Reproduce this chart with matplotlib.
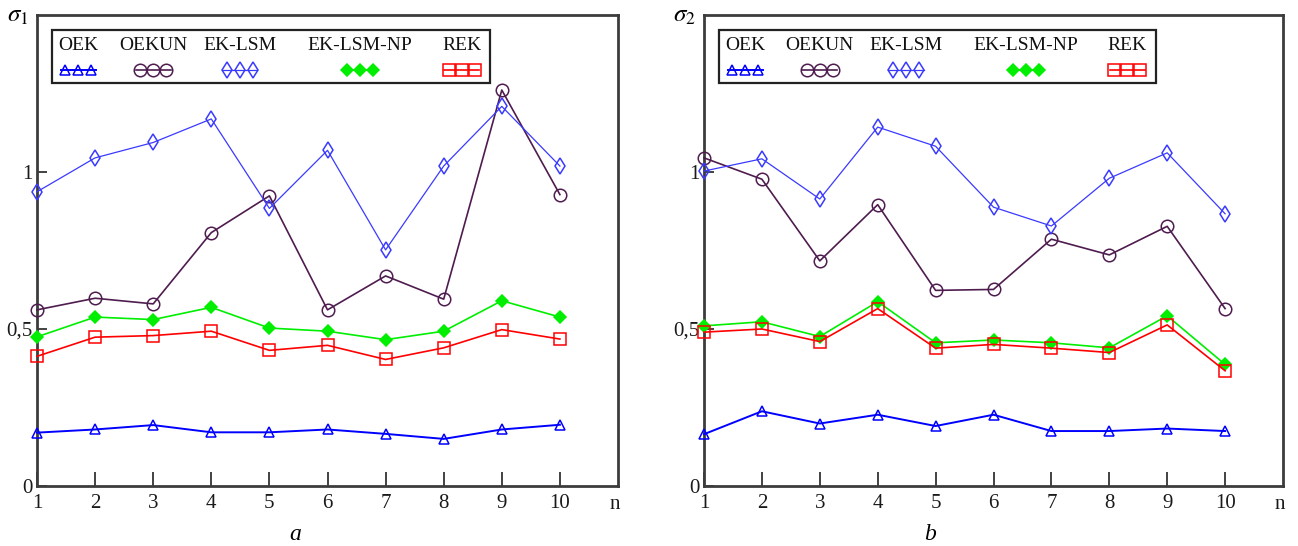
import numpy as np
import matplotlib
matplotlib.use('Agg')
import matplotlib.pyplot as plt

plt.rcParams['font.family'] = ['Liberation Serif', 'DejaVu Serif']
plt.rcParams['mathtext.fontset'] = 'stix'

n = np.arange(1, 11)

# sigma_1 (panel a)
s1_oek = [0.170, 0.180, 0.194, 0.171, 0.171, 0.180, 0.166, 0.150, 0.180, 0.195]
s1_oekun = [0.561, 0.598, 0.580, 0.807, 0.924, 0.561, 0.669, 0.595, 1.261, 0.928]
s1_eklsm = [0.937, 1.045, 1.094, 1.169, 0.884, 1.069, 0.752, 1.019, 1.209, 1.019]
s1_eklsmnp = [0.475, 0.538, 0.530, 0.569, 0.503, 0.493, 0.466, 0.493, 0.590, 0.538]
s1_rek = [0.413, 0.474, 0.479, 0.493, 0.432, 0.448, 0.403, 0.440, 0.498, 0.468]

# sigma_2 (panel b)
s2_oek = [0.165, 0.238, 0.199, 0.227, 0.191, 0.227, 0.175, 0.175, 0.183, 0.175]
s2_oekun = [1.045, 0.977, 0.717, 0.896, 0.623, 0.626, 0.786, 0.736, 0.827, 0.565]
s2_eklsm = [1.003, 1.042, 0.914, 1.143, 1.082, 0.888, 0.828, 0.980, 1.061, 0.867]
s2_eklsmnp = [0.510, 0.523, 0.476, 0.587, 0.456, 0.465, 0.456, 0.440, 0.542, 0.387]
s2_rek = [0.490, 0.500, 0.460, 0.565, 0.439, 0.451, 0.439, 0.425, 0.513, 0.367]

labels = ('OEK', 'OEKUN', 'EK-LSM', 'EK-LSM-NP', 'REK')
colours = ('#0000ff', '#4e1c4e', '#3a3aff', '#00ee00', '#ff0000')
markers = ('^', 'o', 'd', 'D', 's')
msizes = (7, 9, 8, 6, 8)
filled = (False, False, False, True, False)
lwidths = (1.4, 1.2, 0.9, 1.2, 1.2)

ticklab = '#1a1a1a'
spine_c = '#3c3c3c'

fig = plt.figure(figsize=(12.98, 5.46), dpi=100)
ax1 = fig.add_axes([37/1298, 1-486/546, 581/1298, 471/546])
ax2 = fig.add_axes([704/1298, 1-486/546, 579/1298, 471/546])

leg_x = (0.071, 0.200, 0.349, 0.556, 0.731)

panels = ((ax1, (s1_oek, s1_oekun, s1_eklsm, s1_eklsmnp, s1_rek), r'$\sigma_1$', 'a', 0.444),
          (ax2, (s2_oek, s2_oekun, s2_eklsm, s2_eklsmnp, s2_rek), r'$\sigma_2$', 'b', 0.39))

for ax, data, ylab, cap, capx in panels:
    for i, y in enumerate(data):
        ax.plot(n, y, color=colours[i], marker=markers[i], markersize=msizes[i],
                markerfacecolor=colours[i] if filled[i] else 'none',
                markeredgecolor=colours[i], markeredgewidth=1.1, linewidth=lwidths[i],
                clip_on=False, zorder=3)
    ax.set_xlim(1, 11)
    ax.set_ylim(0, 1.5)
    ax.set_xticks(range(1, 11))
    ax.set_yticks([0, 0.5, 1])
    ax.set_yticklabels(['0', '0,5', '1'])
    ax.tick_params(axis='x', direction='in', length=10, width=1.2, color='#222222',
                   labelsize=15, labelcolor=ticklab, pad=6)
    ax.tick_params(axis='y', direction='in', length=7, width=1.2, color='#222222',
                   labelsize=15, labelcolor=ticklab, pad=3)
    ax.tick_params(top=False, right=False)
    for sp in ax.spines.values():
        sp.set_color(spine_c)
        sp.set_linewidth(2)
    ax.text(0.995, -0.040, 'n', transform=ax.transAxes, ha='center', va='center',
            fontsize=15, color=ticklab)
    ax.text(-0.015, 0.997, ylab, transform=ax.transAxes, ha='right', va='center', fontsize=18)
    ax.text(capx, -0.104, cap, transform=ax.transAxes, ha='center', va='center',
            fontsize=17, style='italic')

    # hand-drawn legend box
    box = plt.Rectangle((0.026, 0.856), 0.754, 0.112, transform=ax.transAxes,
                        fill=False, edgecolor='#222222', linewidth=1.6, zorder=4)
    ax.add_patch(box)
    for i, lab in enumerate(labels):
        cx = leg_x[i]
        ax.text(cx, 0.936, lab, transform=ax.transAxes, ha='center', va='center',
                fontsize=14, color='#111111')
        xs = [cx - 0.0224, cx, cx + 0.0224]
        ax.plot([xs[0] - 0.008, xs[-1] + 0.008], [0.883]*2, transform=ax.transAxes,
                color=colours[i], linewidth=lwidths[i], zorder=5)
        ax.plot(xs, [0.883]*3, linestyle='none', transform=ax.transAxes,
                color=colours[i], marker=markers[i], markersize=msizes[i],
                markerfacecolor=colours[i] if filled[i] else 'none',
                markeredgecolor=colours[i], markeredgewidth=1.1, zorder=5)

fig.savefig('out.png', dpi=100)
